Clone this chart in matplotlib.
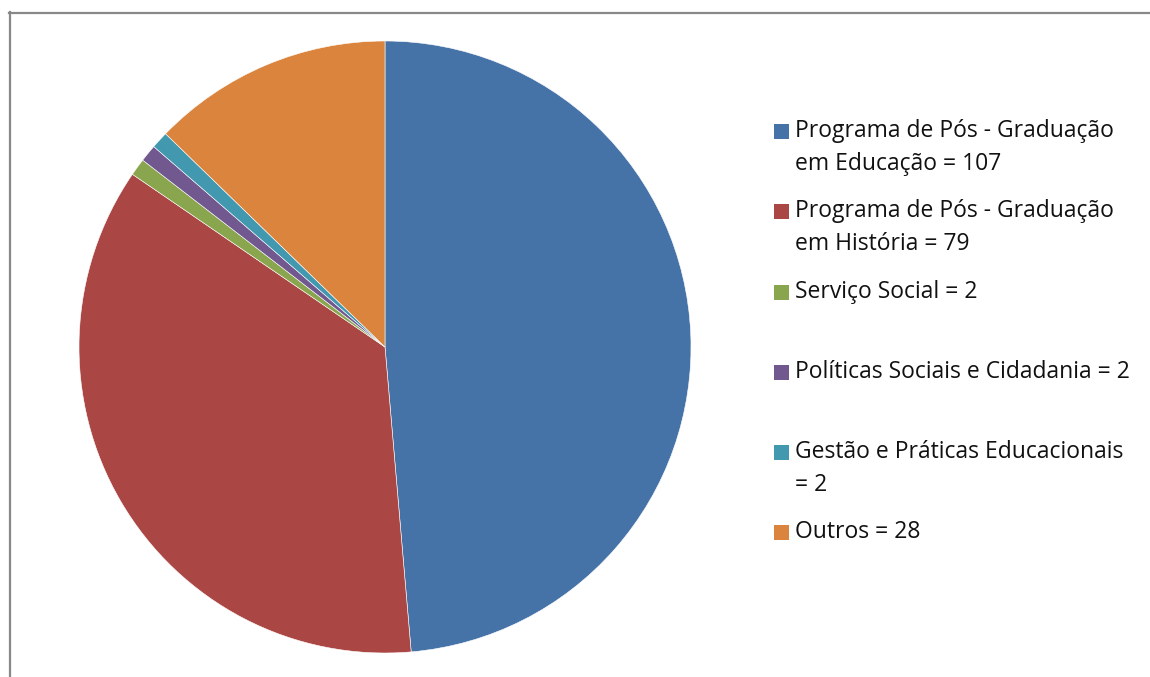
import matplotlib
matplotlib.use("Agg")
import matplotlib.pyplot as plt
from matplotlib.patches import Rectangle
from matplotlib.lines import Line2D

labels = ["Programa de Pós - Graduação\nem Educação = 107",
          "Programa de Pós - Graduação\nem História = 79",
          "Serviço Social = 2",
          "Políticas Sociais e Cidadania = 2",
          "Gestão e Práticas Educacionais\n= 2",
          "Outros = 28"]
values = [107, 79, 2, 2, 2, 28]
colors = ["#4572A7", "#AA4643", "#89A54E", "#71588F", "#4198AF", "#DB843D"]

W, H = 1150, 677
fig = plt.figure(figsize=(W / 100, H / 100), dpi=100)
fig.patch.set_facecolor("white")

def fx(px):
    return px / W

def fy(py):
    return 1 - py / H

cx, cy, r = 385, 347, 306
ax = fig.add_axes([fx(cx - r), fy(cy + r), 2 * r / W, 2 * r / H])
ax.pie(values, colors=colors, startangle=90, counterclock=False, radius=1,
       wedgeprops=dict(edgecolor="white", linewidth=0.4))
ax.set_xlim(-1, 1)
ax.set_ylim(-1, 1)
ax.set_aspect("equal")
ax.axis("off")

# frame
fig.add_artist(Line2D([fx(9.5), fx(9.5)], [fy(12), fy(H + 5)], color="#888888", lw=1.6))
fig.add_artist(Line2D([fx(9), fx(W + 5)], [fy(12.5), fy(12.5)], color="#888888", lw=1.6))

# legend
first_line_y = [131, 211, 292, 372, 452, 532]
line_gap = 33
for lab, col, y0 in zip(labels, colors, first_line_y):
    fig.add_artist(Rectangle((fx(774), fy(y0 + 7.5)), 15 / W, 15 / H,
                             transform=fig.transFigure, facecolor=col, edgecolor="none"))
    for i, line in enumerate(lab.split("\n")):
        fig.text(fx(795), fy(y0 + i * line_gap), line, fontsize=16.5,
                 family="Open Sans", color="#111111", va="center", ha="left")

fig.savefig("out.png", dpi=100)
